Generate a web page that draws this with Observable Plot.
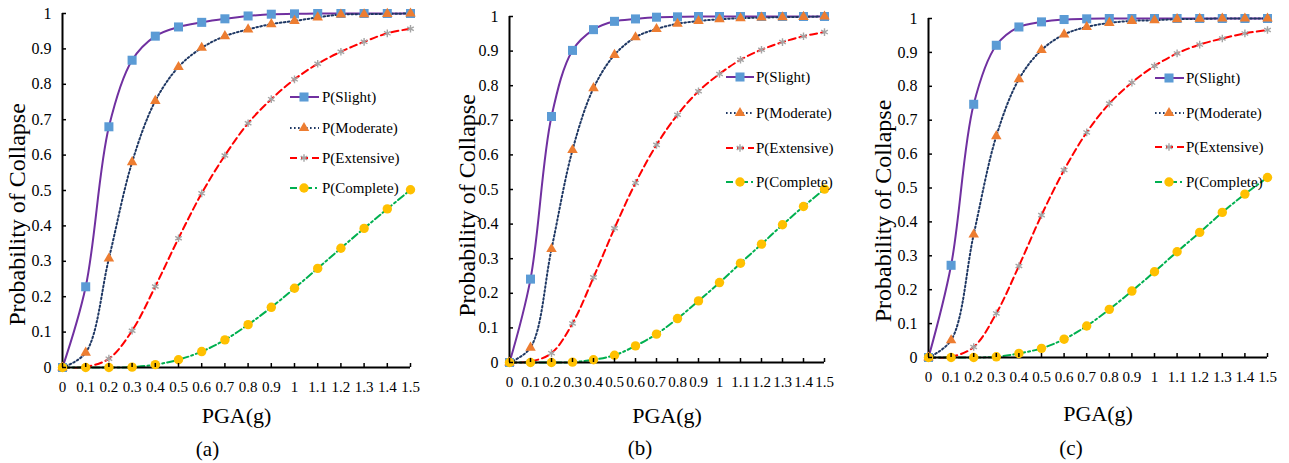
<!DOCTYPE html>
<html><head><meta charset="utf-8">
<script src="https://cdn.jsdelivr.net/npm/d3@7"></script>
<script src="https://cdn.jsdelivr.net/npm/@observablehq/plot@0.6"></script>
<style>
body{margin:0;background:#fff;}
#wrap{position:relative;width:1289px;height:463px;overflow:hidden;background:#fff;font-family:'Liberation Serif',serif;}
.panel{position:absolute;top:0;}
#legend{position:absolute;left:0;top:0;pointer-events:none;}
</style></head><body><div id="wrap"></div>
<script>
// ---------- data ----------
const pga = [0,0.1,0.2,0.3,0.4,0.5,0.6,0.7,0.8,0.9,1.0,1.1,1.2,1.3,1.4,1.5];
const seriesNames = ["P(Slight)","P(Moderate)","P(Extensive)","P(Complete)"];
const panelLabels = ["(a)","(b)","(c)"];
const xTicks = [0,0.1,0.2,0.3,0.4,0.5,0.6,0.7,0.8,0.9,1,1.1,1.2,1.3,1.4,1.5];
const yTicks = [0,0.1,0.2,0.3,0.4,0.5,0.6,0.7,0.8,0.9,1];
const xTitle = "PGA(g)";
const yTitle = "Probability of Collapse";

const slightA    = [0,0.228,0.680,0.868,0.936,0.962,0.975,0.985,0.993,0.998,0.999,1,1,1,1,1];
const moderateA  = [0,0.042,0.308,0.580,0.753,0.849,0.903,0.936,0.955,0.970,0.979,0.989,0.997,0.998,0.999,1];
const extensiveA = [0,0.002,0.025,0.104,0.229,0.365,0.492,0.599,0.690,0.758,0.814,0.858,0.892,0.920,0.944,0.957];
const completeA  = [0,0,0,0.001,0.008,0.022,0.045,0.078,0.121,0.170,0.224,0.280,0.337,0.393,0.448,0.502];

const slightB    = [0,0.241,0.711,0.902,0.962,0.986,0.993,0.998,0.999,1,1,1,1,1,1,1];
const moderateB  = [0,0.043,0.328,0.614,0.793,0.889,0.940,0.964,0.979,0.987,0.992,0.995,0.997,0.998,0.999,1];
const extensiveB = [0,0.003,0.027,0.113,0.246,0.388,0.519,0.629,0.716,0.784,0.834,0.875,0.904,0.926,0.943,0.955];
const completeB  = [0,0,0,0.001,0.008,0.021,0.048,0.082,0.127,0.178,0.231,0.287,0.342,0.398,0.451,0.501];

const slightC    = [0,0.272,0.747,0.921,0.975,0.990,0.997,0.999,1,1,1,1,1,1,1,1];
const moderateC  = [0,0.051,0.363,0.653,0.821,0.907,0.953,0.975,0.987,0.993,0.995,0.998,0.999,1,1,1];
const extensiveC = [0,0.002,0.031,0.130,0.270,0.420,0.553,0.664,0.749,0.811,0.860,0.897,0.923,0.941,0.956,0.966];
const completeC  = [0,0,0,0.002,0.012,0.027,0.054,0.093,0.142,0.196,0.253,0.312,0.369,0.428,0.482,0.531];

const panelSeries = [
  [slightA, moderateA, extensiveA, completeA],
  [slightB, moderateB, extensiveB, completeB],
  [slightC, moderateC, extensiveC, completeC]
];

// ---------- styles ----------
const styles = [
  {line:"#7030A0", dash:null, sym:"square", r:5.1, fill:"#5B9BD5", stroke:"none"},
  {line:"#1F3864", dash:"1.6 2.4", sym:"triangle", r:3.9, fill:"#ED7D31", stroke:"none"},
  {line:"#FF0000", dash:"7 4", sym:"asterisk", r:3.6, fill:"none", stroke:"#A5A5A5"},
  {line:"#00B050", dash:"7 3 2 3", sym:"circle", r:4.7, fill:"#FFC000", stroke:"none"}
];

const layout = [
  {left:0,   width:430, ml:62, mr:20, mt:13, mb:96,  tdx:-45, tdy:24, xl:48, cap:82, capdx:-29,
   lg:{x0:290, x1:319, mx:304, tx:322, ys:[97,128,158,188]}},
  {left:430, width:430, ml:79, mr:36, mt:16, mb:101, tdx:-42, tdy:16, xl:53, cap:86, capdx:-27,
   lg:{x0:726, x1:754, mx:740, tx:756, ys:[77,113,148,182]}},
  {left:860, width:429, ml:68, mr:22, mt:18, mb:106, tdx:-45, tdy:23, xl:56, cap:91, capdx:-27,
   lg:{x0:1155, x1:1184, mx:1169, tx:1186, ys:[78,113,147,182]}}
];

const fmt = d => String(+(+d).toFixed(1));
const FONT = "Liberation Serif";
const wrap = document.getElementById("wrap");

layout.forEach((L, p) => {
  const marks = [];
  panelSeries[p].forEach((vals, s) => {
    const st = styles[s];
    const rows = pga.map((x, i) => ({x, y: vals[i]}));
    marks.push(Plot.line(rows, {x:"x", y:"y", curve:"catmull-rom", stroke:st.line, strokeWidth:2, strokeDasharray: st.dash}));
  });
  marks.push(Plot.ruleY([0], {stroke:"#000", strokeWidth:2}));
  marks.push(Plot.ruleX([0], {stroke:"#000", strokeWidth:2}));
  panelSeries[p].forEach((vals, s) => {
    const st = styles[s];
    const rows = pga.map((x, i) => ({x, y: vals[i]}));
    marks.push(Plot.dot(rows, {x:"x", y:"y", symbol: st.sym, r: st.r, fill: st.fill, stroke: st.stroke, strokeWidth: 1.4}));
  });
  marks.push(Plot.axisX(xTicks, {tickSize:-4, tickPadding:18, tickFormat:fmt, fontSize:15, fontFamily:FONT, stroke:"#000", strokeWidth:1.5, label:null}));
  marks.push(Plot.axisY(yTicks, {tickSize:-4, tickPadding:15, tickFormat:fmt, fontSize:16, fontFamily:FONT, stroke:"#000", strokeWidth:1.5, label:null}));
  marks.push(Plot.text([yTitle], {frameAnchor:"left", textAnchor:"middle", text:d=>d, rotate:-90, dx:L.tdx, dy:L.tdy, fontSize:24, fontFamily:FONT, fill:"#000", lineAnchor:"middle"}));
  marks.push(Plot.text([xTitle], {frameAnchor:"bottom", textAnchor:"middle", text:d=>d, dy:L.xl, fontSize:22, fontFamily:FONT, fill:"#000", lineAnchor:"middle"}));
  marks.push(Plot.text([panelLabels[p]], {frameAnchor:"bottom", textAnchor:"middle", text:d=>d, dx:L.capdx, dy:L.cap, fontSize:21, fontFamily:FONT, fill:"#000", lineAnchor:"middle"}));

  const chart = Plot.plot({
    width: L.width, height: 463,
    marginLeft: L.ml, marginRight: L.mr, marginTop: L.mt, marginBottom: L.mb,
    x: {domain:[0,1.5]}, y: {domain:[0,1]},
    style: {fontFamily: FONT, color:"#000", background:"transparent", overflow:"visible"},
    marks
  });
  const div = document.createElement("div");
  div.className = "panel";
  div.style.left = L.left + "px";
  div.appendChild(chart);
  wrap.appendChild(div);
});

// ---------- legends ----------
const svg = d3.select(wrap).append("svg").attr("id","legend").attr("width",1289).attr("height",463);
const symMap = {square:d3.symbolSquare, triangle:d3.symbolTriangle, asterisk:d3.symbolAsterisk, circle:d3.symbolCircle};
layout.forEach(L => {
  seriesNames.forEach((name, s) => {
    const st = styles[s], y = L.lg.ys[s];
    const g = svg.append("g");
    g.append("line").attr("x1",L.lg.x0).attr("x2",L.lg.x1).attr("y1",y).attr("y2",y)
      .attr("stroke",st.line).attr("stroke-width",2).attr("stroke-dasharray",st.dash);
    g.append("path").attr("transform",`translate(${L.lg.mx},${y})`)
      .attr("d", d3.symbol().type(symMap[st.sym]).size(Math.PI*st.r*st.r)())
      .attr("fill", st.fill).attr("stroke", st.stroke).attr("stroke-width",1.4);
    g.append("text").attr("x",L.lg.tx).attr("y",y).attr("dy","0.35em")
      .attr("font-family",FONT).attr("font-size",15).attr("fill","#000").text(name);
  });
});
</script></body></html>
